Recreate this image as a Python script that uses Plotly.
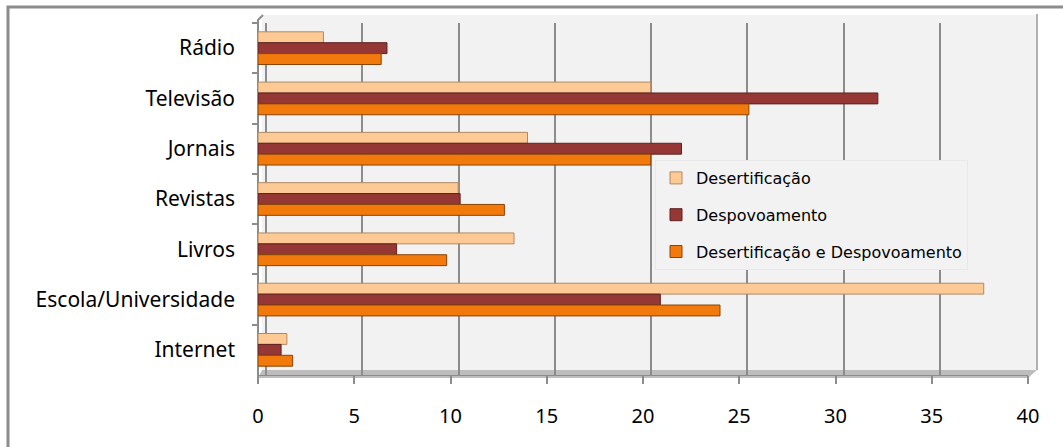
import plotly.graph_objects as go

# data
categories = ['Rádio', 'Televisão', 'Jornais', 'Revistas', 'Livros',
              'Escola/Universidade', 'Internet']
desertificacao = [3.4, 20.4, 14.0, 10.4, 13.3, 37.7, 1.5]
despovoamento = [6.7, 32.2, 22.0, 10.5, 7.2, 20.9, 1.2]
ambos = [6.4, 25.5, 20.4, 12.8, 9.8, 24.0, 1.8]

series_names = ['Desertificação', 'Despovoamento', 'Desertificação e Despovoamento']
series_values = [desertificacao, despovoamento, ambos]
fill_colors = ['#fdc995', '#953735', '#f27a0d']
edge_colors = ['#b08a66', '#5e2220', '#8a4406']

W, H = 1063, 447
L, R, T, B = 258, 35, 23, 72
PW, PH = W - L - R, H - T - B


def px(x):
    return (x - L) / PW


def py(y):
    return (H - B - y) / PH


fig = go.Figure()
for name, vals, fc, ec in zip(series_names, series_values, fill_colors, edge_colors):
    fig.add_trace(go.Bar(
        y=categories, x=vals, name=name, orientation='h',
        legendgroup=name,
        marker=dict(color=fc, line=dict(color=ec, width=1)),
    ))

# back-wall gridlines sit slightly to the right of the front axis (3D look)
fig.add_trace(go.Scatter(x=[0], y=[categories[0]], xaxis='x2', mode='markers',
                         marker=dict(opacity=0), showlegend=False, hoverinfo='skip'))

shapes = [
    # back wall
    dict(type='rect', xref='paper', yref='paper', layer='below',
         x0=px(262), x1=px(1036), y0=py(370), y1=py(15),
         fillcolor='#f2f2f2', line=dict(width=0)),
    dict(type='line', xref='paper', yref='paper', layer='below',
         x0=px(1037), x1=px(1037), y0=py(370), y1=py(14),
         line=dict(color='#b0b0b0', width=2)),
    # floor
    dict(type='path', xref='paper', yref='paper', layer='below',
         path=f'M {px(258)} {py(378)} L {px(1028)} {py(378)} L {px(1037)} {py(370)} '
              f'L {px(262)} {py(370)} Z',
         fillcolor='#bdbdbd', line=dict(width=0)),
    # left wall edge
    dict(type='path', xref='paper', yref='paper', layer='below',
         path=f'M {px(258)} {py(378)} L {px(258)} {py(20)} L {px(263)} {py(15)}',
         line=dict(color='#8c8c8c', width=2)),
    # outer chart border (cut off at right and bottom)
    dict(type='rect', xref='paper', yref='paper',
         x0=px(8), x1=px(1100), y0=py(480), y1=py(7),
         line=dict(color='#8c8c8c', width=3)),
]

fig.update_layout(
    width=W, height=H,
    margin=dict(l=L, r=R, t=T, b=B),
    paper_bgcolor='white', plot_bgcolor='rgba(0,0,0,0)',
    barmode='group', bargap=0.35, bargroupgap=0,
    font=dict(family='Noto Sans', color='#000000'),
    showlegend=True,
    legend=dict(x=px(655), y=py(160), xanchor='left', yanchor='top',
                bgcolor='#f2f2f2', bordercolor='#e8e8e8', borderwidth=1,
                font=dict(size=16, family='DejaVu Sans'), tracegroupgap=13,
                traceorder='grouped'),
    xaxis=dict(range=[0, 40], dtick=5, showgrid=False, zeroline=False,
               ticks='outside', ticklen=8, tickwidth=2, tickcolor='#8c8c8c',
               ticklabelstandoff=15, tickfont=dict(size=20),
               showline=True, linecolor='#8c8c8c', linewidth=1),
    xaxis2=dict(overlaying='x', range=[-8 / (PW / 40), 40 - 8 / (PW / 40)],
                dtick=5, showgrid=True, gridcolor='#8c8c8c', gridwidth=2,
                showticklabels=False, zeroline=False, fixedrange=True),
    yaxis=dict(autorange='reversed', showgrid=False, zeroline=False,
               tickson='boundaries', ticks='outside', ticklen=5, tickwidth=2,
               tickcolor='#8c8c8c', ticklabelstandoff=22,
               tickfont=dict(size=21)),
    shapes=shapes,
)

fig.write_html('out.html', config={'displayModeBar': False},
               post_script="document.body.style.margin='0';")
